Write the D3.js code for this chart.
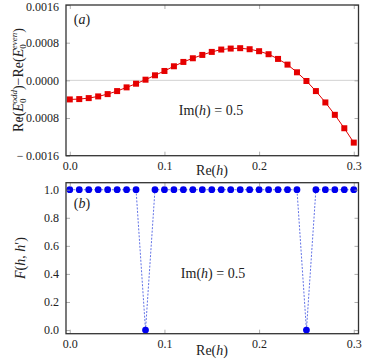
<!DOCTYPE html>
<html>
<head>
<meta charset="utf-8">
<script src="https://cdn.jsdelivr.net/npm/d3@7"></script>
<style>
  body { margin: 0; background: #fff; }
  svg text { font-family: "Liberation Serif", serif; }
  .tick text { font-size: 12px; fill: #222; font-family: "Liberation Serif", serif; }
</style>
</head>
<body>
<svg id="chart" width="370" height="361"></svg>
<script>
// data
let re_h = d3.range(31).map(function(i) { return +(i * 0.01).toFixed(2); });
let diff_energy = [
  -0.000405, -0.000398, -0.000377, -0.000341, -0.000292, -0.000228, -0.000149, -0.000071,
  0.000014, 0.000107, 0.000199, 0.000299, 0.000391, 0.000469, 0.000540, 0.000604,
  0.000654, 0.000675, 0.000683, 0.000661, 0.000619, 0.000555, 0.000455, 0.000334,
  0.000171, -0.000014, -0.000228, -0.000469, -0.000732, -0.001017, -0.001322
];
let fidelity = [
  1, 1, 1, 1, 1, 1, 1, 1, 0, 1, 1, 1, 1, 1, 1, 1,
  1, 1, 1, 1, 1, 1, 1, 1, 1, 0, 1, 1, 1, 1, 1
];
let x_ticks = [0.0, 0.1, 0.2, 0.3];
let top_y_ticks = [-0.0016, -0.0008, 0.0, 0.0008, 0.0016];
let bot_y_ticks = [0.0, 0.2, 0.4, 0.6, 0.8, 1.0];

let svg = d3.select("#chart");
let left = 66, right = 358.5;

function drawFrame(g, x, y, xt, yt, yfmt, top, bottom) {
  // inward ticks on all sides
  g.append("g").attr("class", "axis")
    .attr("transform", "translate(0," + bottom + ")")
    .call(d3.axisBottom(x).tickValues(xt).tickSize(-4).tickPadding(6).tickFormat(d3.format(".1f")));
  g.append("g")
    .attr("transform", "translate(0," + top + ")")
    .call(d3.axisTop(x).tickValues(xt).tickSize(-4).tickFormat(""));
  g.append("g").attr("class", "axis")
    .attr("transform", "translate(" + left + ",0)")
    .call(d3.axisLeft(y).tickValues(yt).tickSize(-4).tickPadding(7).tickFormat(yfmt));
  g.append("g")
    .attr("transform", "translate(" + right + ",0)")
    .call(d3.axisRight(y).tickValues(yt).tickSize(-4).tickFormat(""));
  g.selectAll(".domain").remove();
  g.selectAll("g").attr("font-family", null).attr("font-size", null);
  g.selectAll(".tick line").style("stroke", "#999").style("stroke-width", 0.8);
  g.append("rect")
    .attr("x", left).attr("y", top)
    .attr("width", right - left).attr("height", bottom - top)
    .style("fill", "none").style("stroke", "#333").style("stroke-width", 1.3);
}

// panel (a)
let xa = d3.scaleLinear().domain([-0.004, 0.305]).range([left, right]);
let ya = d3.scaleLinear().domain([-0.0016, 0.0016]).range([155.7, 5]);
let ga = svg.append("g");

ga.append("line")
  .attr("x1", left).attr("x2", right)
  .attr("y1", ya(0)).attr("y2", ya(0))
  .style("stroke", "#c8c8c8").style("stroke-width", 0.8);

ga.append("path")
  .datum(re_h.map(function(d, i) { return [d, diff_energy[i]]; }))
  .attr("d", d3.line().x(function(d) { return xa(d[0]); }).y(function(d) { return ya(d[1]); }))
  .style("fill", "none").style("stroke", "#e00000").style("stroke-width", 1);

ga.selectAll(".sq").data(re_h)
  .enter().append("rect")
  .attr("class", "sq")
  .attr("x", function(d) { return xa(d) - 3; })
  .attr("y", function(d, i) { return ya(diff_energy[i]) - 3; })
  .attr("width", 6).attr("height", 6)
  .style("fill", "#e50000");

drawFrame(ga, xa, ya, x_ticks, top_y_ticks,
  function(d) { return (d < 0 ? "\u2212\u2009" : "") + Math.abs(d).toFixed(4); }, 5, 155.7);
// keep top label inside the window
ga.selectAll(".axis .tick text")
  .filter(function(d) { return d === 0.0016; })
  .attr("dy", "0.45em");

// panel (b)
let xb = d3.scaleLinear().domain([-0.004, 0.305]).range([left, right]);
let yb = d3.scaleLinear().domain([-0.026, 1.05]).range([333.7, 182.7]);
let gb = svg.append("g");

gb.append("path")
  .datum(re_h.map(function(d, i) { return [d, fidelity[i]]; }))
  .attr("d", d3.line().x(function(d) { return xb(d[0]); }).y(function(d) { return yb(d[1]); }))
  .style("fill", "none").style("stroke", "#3a4fe0").style("stroke-width", 0.8)
  .style("stroke-dasharray", "2,1.5");

gb.selectAll(".dot").data(re_h)
  .enter().append("circle")
  .attr("class", "dot")
  .attr("cx", function(d) { return xb(d); })
  .attr("cy", function(d, i) { return yb(fidelity[i]); })
  .attr("r", 3.4)
  .style("fill", "#0000ee");

drawFrame(gb, xb, yb, x_ticks, bot_y_ticks, d3.format(".1f"), 182.7, 333.7);

// labels
function label(x, y, parts, size, rotate) {
  let t = svg.append("text")
    .attr("x", x).attr("y", y)
    .attr("text-anchor", "middle")
    .style("font-size", size + "px")
    .style("fill", "#222");
  if (rotate) t.attr("transform", "rotate(-90," + x + "," + y + ")");
  parts.forEach(function(p) {
    let s = t.append("tspan").text(p.t);
    if (p.i) s.style("font-style", "italic");
    if (p.dy) s.attr("dy", p.dy);
    if (p.fs) s.style("font-size", p.fs + "px");
    if (p.dx) s.attr("dx", p.dx);
  });
  return t;
}

label(82, 24, [{t: "("}, {t: "a", i: true}, {t: ")"}], 14);
label(82, 208, [{t: "("}, {t: "b", i: true}, {t: ")"}], 14);

label(211, 115, [{t: "Im("}, {t: "h", i: true}, {t: ") = 0.5"}], 14);
label(213, 278, [{t: "Im("}, {t: "h", i: true}, {t: ") = 0.5"}], 14);

label(212, 175, [{t: "Re("}, {t: "h", i: true}, {t: ")"}], 14);
label(212, 355, [{t: "Re("}, {t: "h", i: true}, {t: ")"}], 14);

label(23, 80, [
  {t: "Re("}, {t: "E", i: true},
  {t: "0", fs: 9, dy: 3}, {t: "odd", i: true, fs: 9, dy: -9, dx: -5},
  {t: ")\u2212Re(", dy: 6}, {t: "E", i: true},
  {t: "0", fs: 9, dy: 3}, {t: "even", i: true, fs: 9, dy: -9, dx: -5},
  {t: ")", dy: 6}
], 14, true);

label(25, 258, [
  {t: "F", i: true}, {t: "("}, {t: "h", i: true}, {t: ", "}, {t: "h", i: true}, {t: "\u2032)"}
], 14, true);
</script>
</body>
</html>
